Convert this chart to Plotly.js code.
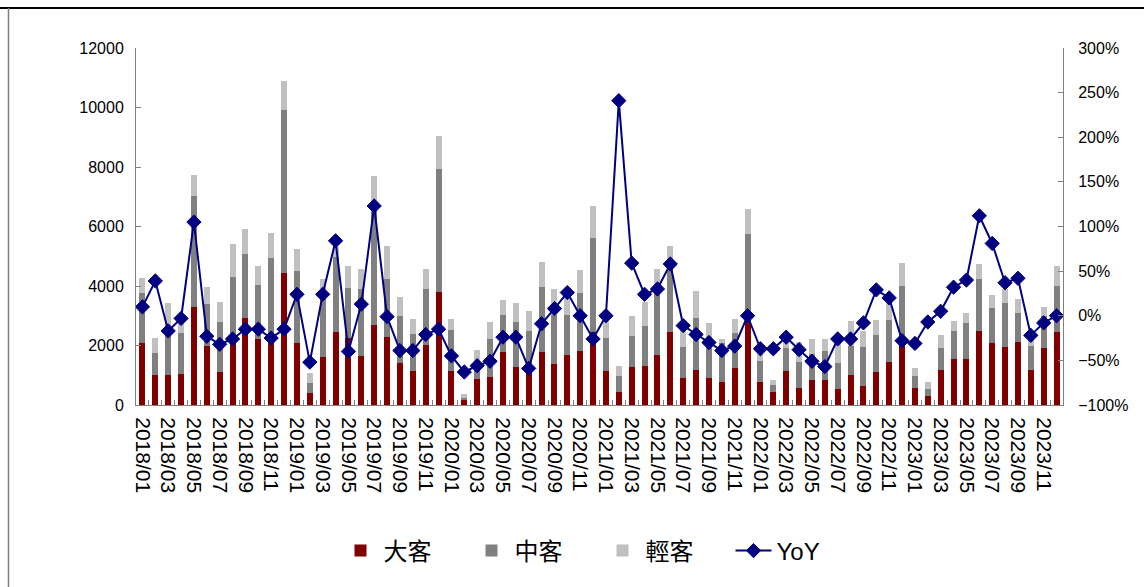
<!DOCTYPE html>
<html>
<head>
<meta charset="utf-8">
<script src="https://cdn.plot.ly/plotly-3.0.1.min.js"></script>
<style>
  html, body { margin: 0; padding: 0; background: #ffffff; }
  #chart { width: 1144px; height: 587px; }
</style>
</head>
<body>
<div id="chart"></div>
<script>
// ---- data ----
const months = [
  "2018/01","2018/02","2018/03","2018/04","2018/05","2018/06","2018/07","2018/08","2018/09","2018/10","2018/11","2018/12",
  "2019/01","2019/02","2019/03","2019/04","2019/05","2019/06","2019/07","2019/08","2019/09","2019/10","2019/11","2019/12",
  "2020/01","2020/02","2020/03","2020/04","2020/05","2020/06","2020/07","2020/08","2020/09","2020/10","2020/11","2020/12",
  "2021/01","2021/02","2021/03","2021/04","2021/05","2021/06","2021/07","2021/08","2021/09","2021/10","2021/11","2021/12",
  "2022/01","2022/02","2022/03","2022/04","2022/05","2022/06","2022/07","2022/08","2022/09","2022/10","2022/11","2022/12",
  "2023/01","2023/02","2023/03","2023/04","2023/05","2023/06","2023/07","2023/08","2023/09","2023/10","2023/11","2023/12"
];

// 大客 (large buses)
const large = [
  2080,1010,1010,1040,3300,1970,1120,2150,2930,2230,2150,4450,
  2090,414,1620,2460,2260,1660,2690,2300,1420,1130,2030,3810,
  1130,168,874,929,1790,1280,1180,1790,1370,1680,1830,2460,
  1150,437,1280,1310,1680,2460,918,1180,896,773,1230,2800,
  773,448,1150,582,840,840,549,1010,638,1100,1450,2070,
  571,314,1180,1530,1530,2490,2080,1940,2120,1180,1920,2460
];
// 中客 (medium buses)
const medium = [
  1690,728,1510,1390,3740,1430,1680,2140,2140,1800,2780,5470,
  2420,314,2240,2520,1680,2230,4110,1940,1570,1240,1880,4110,
  1390,67,470,1300,1250,1520,1310,2180,1660,1340,1950,3140,
  1110,549,1040,1360,2320,2340,1040,1760,1220,1300,1200,2950,
  705,224,750,874,862,986,851,986,1320,1240,1410,1930,
  403,224,728,952,1220,1750,1190,1490,985,818,1080,1530
];
// 輕客 (light buses)
const light = [
  483,526,896,470,694,582,650,1110,840,638,840,974,
  728,336,392,320,728,672,910,1090,650,516,650,1120,
  370,135,504,549,482,616,661,829,884,576,773,1100,
  594,324,672,784,570,550,672,896,627,134,459,851,
  370,168,280,672,504,380,672,828,526,515,560,762,
  258,224,459,336,359,492,414,459,460,235,280,684
];
// YoY (%)
const yoy = [
  10,39,-17,-3,105,-23,-32,-26,-15,-15,-25,-15,
  24,-52,24,84,-40,13,123,-1,-39,-39,-21,-15,
  -45,-63,-56,-51,-24,-24,-59,-9,8,26,0,-26,
  0,241,59,24,30,58,-11,-21,-30,-39,-34,0,
  -37,-37,-24,-38,-51,-57,-26,-26,-8,29,20,-28,
  -31,-7,5,32,40,112,81,37,42,-22,-8,0
];

const seriesNames = ["大客", "中客", "輕客", "YoY"];
const tickText = months.map((m, i) => (i % 2 === 0 ? m : ""));

// ---- chart ----
const FONT = "'Liberation Sans', Arial, 'Noto Sans CJK TC', sans-serif";
const W = 1144, H = 587;
const M = { l: 136, r: 81, t: 48, b: 182 };
const pw = W - M.l - M.r, ph = H - M.t - M.b;
const px = x => (x - M.l) / pw;
const py = y => (H - M.b - y) / ph;

const traces = [
  { type: "bar", name: seriesNames[0], x: months, y: large, marker: { color: "#800000" } },
  { type: "bar", name: seriesNames[1], x: months, y: medium, marker: { color: "#808080" } },
  { type: "bar", name: seriesNames[2], x: months, y: light, marker: { color: "#C0C0C0" } },
  { type: "scatter", mode: "lines+markers", name: seriesNames[3], x: months, y: yoy, yaxis: "y2",
    line: { color: "#000080", width: 2 },
    marker: { symbol: "diamond", size: 11, color: "#000080", line: { color: "#000080", width: 1 } } }
];

const axisCommon = {
  showline: true, linecolor: "#808080", linewidth: 1,
  ticks: "inside", ticklen: 5, tickcolor: "#808080",
  showgrid: false, zeroline: false,
  tickfont: { family: FONT, size: 16, color: "#000" }
};

const layout = {
  width: W, height: H,
  margin: M,
  paper_bgcolor: "#ffffff", plot_bgcolor: "#ffffff",
  barmode: "stack", bargap: 0.53,
  showlegend: true,
  font: { family: FONT, color: "#000" },
  xaxis: Object.assign({}, axisCommon, {
    type: "category",
    tickmode: "array", tickvals: months, ticktext: tickText,
    tickson: "boundaries",
    tickangle: 90,
    ticklabelstandoff: 7,
    tickfont: { family: FONT, size: 21, color: "#000" },
    range: [-0.5, months.length - 0.5]
  }),
  yaxis: Object.assign({}, axisCommon, {
    range: [0, 12000], tick0: 0, dtick: 2000, tickformat: "d", ticklabelstandoff: 8
  }),
  yaxis2: Object.assign({}, axisCommon, {
    overlaying: "y", side: "right",
    range: [-100, 300], tick0: -100, dtick: 50, ticksuffix: "%", ticklabelstandoff: 11
  }),
  legend: {
    orientation: "h", x: 0.5, xanchor: "center", y: py(551), yanchor: "middle",
    font: { family: FONT, size: 24, color: "#000" },
    traceorder: "normal", entrywidth: 80, entrywidthmode: "pixels",
    itemwidth: 36,
    bgcolor: "rgba(0,0,0,0)"
  },
  shapes: [
    { type: "line", xref: "paper", yref: "paper", x0: px(0), x1: px(W), y0: py(8), y1: py(8),
      line: { color: "#000", width: 2 } },
    { type: "line", xref: "paper", yref: "paper", x0: px(8.5), x1: px(8.5), y0: py(8), y1: py(H),
      line: { color: "#808080", width: 1.5 } }
  ]
};

Plotly.newPlot("chart", traces, layout, { displayModeBar: false, staticPlot: true });
</script>
</body>
</html>
